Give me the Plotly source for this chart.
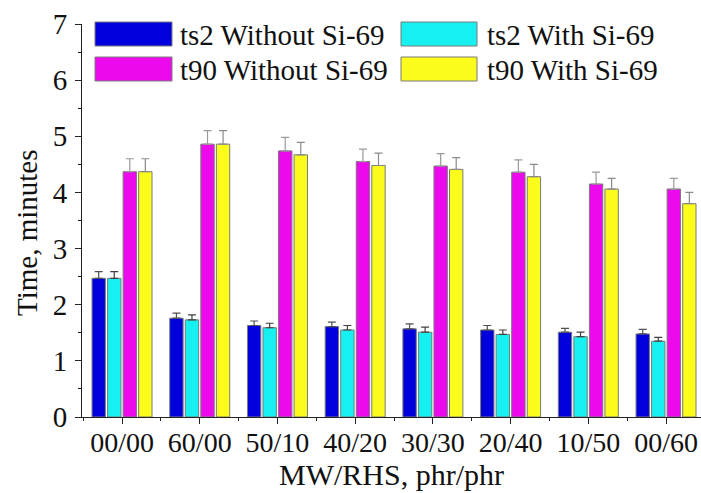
import plotly.graph_objects as go

# Cure characteristics: scorch time (ts2) and optimum cure time (t90)
categories = ["00/00", "60/00", "50/10", "40/20", "30/30", "20/40", "10/50", "00/60"]

ts2_without = [2.47, 1.76, 1.63, 1.61, 1.57, 1.55, 1.51, 1.48]
ts2_without_err = [0.12, 0.09, 0.08, 0.08, 0.09, 0.08, 0.07, 0.08]
ts2_with = [2.47, 1.73, 1.59, 1.55, 1.51, 1.47, 1.43, 1.35]
ts2_with_err = [0.12, 0.09, 0.08, 0.08, 0.09, 0.08, 0.08, 0.07]
t90_without = [4.37, 4.86, 4.74, 4.55, 4.47, 4.36, 4.15, 4.06]
t90_without_err = [0.23, 0.24, 0.24, 0.22, 0.22, 0.22, 0.21, 0.19]
t90_with = [4.37, 4.86, 4.67, 4.48, 4.41, 4.28, 4.06, 3.80]
t90_with_err = [0.23, 0.24, 0.22, 0.22, 0.21, 0.22, 0.19, 0.20]

series = [
    ("ts2 Without Si-69", ts2_without, ts2_without_err, "#0000DC", "#505050"),
    ("ts2 With Si-69", ts2_with, ts2_with_err, "#16F0F0", "#404040"),
    ("t90 Without Si-69", t90_without, t90_without_err, "#EC0AEC", "#9A9A9A"),
    ("t90 With Si-69", t90_with, t90_with_err, "#FCFC1C", "#8A8A8A"),
]

FONT = "Liberation Serif"
W, H = 701, 493
L, R, T, B = 82, 0, 24, 76
PW, PH = W - L - R, H - T - B

x_pos = list(range(len(categories)))

fig = go.Figure()
for name, vals, errs, color, ecolor in series:
    fig.add_trace(go.Bar(
        x=x_pos, y=vals, name=name, showlegend=False,
        marker=dict(color=color, line=dict(color="#7A7A7A", width=1)),
        error_y=dict(type="data", array=errs, arrayminus=[0] * len(errs),
                     symmetric=False, color=ecolor, thickness=1.2, width=4),
    ))


def px_x(px):
    return (px - L) / PW


def px_y(py):
    return (H - B - py) / PH


# Two-column legend with wide colour swatches
legend_cols = [(95, 172, 178), (401, 477, 485)]
legend_rows = [(22, 46), (57, 81)]
shapes, annotations = [], []
for k, (name, _, _, color, _) in enumerate(series):
    r, c = divmod(k, 2)
    x0, x1, tx = legend_cols[c]
    y0, y1 = legend_rows[r]
    shapes.append(dict(type="rect", xref="paper", yref="paper",
                       x0=px_x(x0), x1=px_x(x1), y0=px_y(y1), y1=px_y(y0),
                       fillcolor=color, line=dict(color="#7A7A7A", width=1)))
    annotations.append(dict(xref="paper", yref="paper", x=px_x(tx),
                            y=px_y((y0 + y1) / 2 + 1), xanchor="left",
                            yanchor="middle", showarrow=False, text=name,
                            font=dict(family=FONT, size=29, color="#111")))

# Vertical axis title
annotations.append(dict(xref="paper", yref="paper", x=px_x(27), y=px_y(233),
                        xanchor="center", yanchor="middle", textangle=-90,
                        showarrow=False, text="Time, minutes",
                        font=dict(family=FONT, size=29, color="#111")))

fig.update_layout(
    width=W, height=H,
    margin=dict(l=L, r=R, t=T, b=B, pad=0),
    paper_bgcolor="white", plot_bgcolor="white",
    barmode="group", bargap=0.2, bargroupgap=0.14,
    shapes=shapes, annotations=annotations,
    font=dict(family=FONT, color="#111"),
)

fig.update_xaxes(
    range=[-0.515, 7.45], tickmode="array", tickvals=x_pos, ticktext=categories,
    showgrid=False, zeroline=False, showline=True, linecolor="#222", linewidth=1,
    ticks="outside", ticklen=6, tickcolor="#222", tickwidth=1,
    tickfont=dict(family=FONT, size=28, color="#111"),
    ticklabelstandoff=-6,
    minor=dict(tick0=0.5, dtick=1, ticks="outside", ticklen=3,
               tickcolor="#222", tickwidth=1),
    title=dict(text="MW/RHS, phr/phr", standoff=6,
               font=dict(family=FONT, size=30, color="#111")),
)

fig.update_yaxes(
    range=[0, 7], tickmode="linear", tick0=0, dtick=1,
    showgrid=False, zeroline=False, showline=True, linecolor="#222", linewidth=1,
    ticks="outside", ticklen=6, tickcolor="#222", tickwidth=1,
    tickfont=dict(family=FONT, size=29, color="#111"),
    ticklabelstandoff=2,
    minor=dict(dtick=0.5, ticks="outside", ticklen=3, tickcolor="#222",
               tickwidth=1),
)

fig.write_html("out.html")
